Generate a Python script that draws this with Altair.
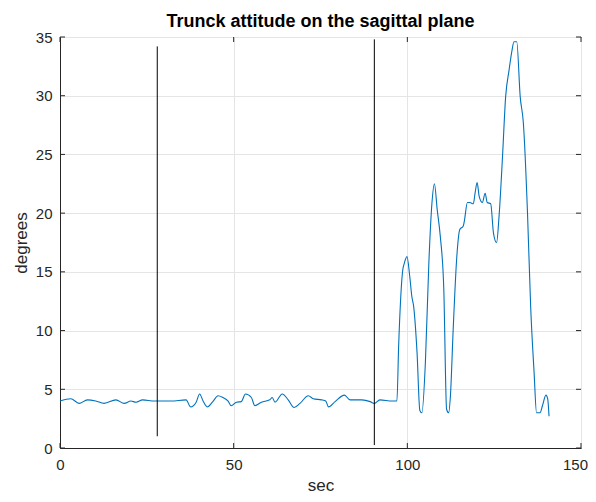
import altair as alt
import pandas as pd

sec = [0.0, 3.1, 5.5, 7.9, 10.3, 12.7, 16.1, 18.5, 20.4, 21.9, 23.8, 27.2, 32.0, 36.3,
       37.6, 39.2, 40.2, 41.2, 42.4, 44.0, 45.5, 46.9, 48.4, 49.3, 50.8, 52.2, 53.4,
       55.1, 56.1, 58.0, 60.4, 61.1, 61.9, 64.0, 65.7, 67.4, 69.1, 71.5, 72.9, 75.3,
       76.5, 77.3, 79.2, 81.9, 83.5, 86.9, 89.3, 90.5, 92.1, 95.6, 97.0, 97.5, 98.7,
       99.1, 99.9, 100.7, 101.3, 101.8, 102.8, 103.6, 104.2, 105.2, 106.2, 107.1,
       107.8, 108.6, 109.5, 110.5, 111.3, 111.9, 112.4, 113.2, 114.2, 115.1, 116.1,
       116.4, 117.3, 118.0, 119.0, 119.5, 120.1, 120.7, 121.6, 122.4, 123.0, 124.0,
       124.8, 125.7, 126.4, 127.4, 128.3, 129.3, 130.1, 130.7, 131.5, 132.5, 133.4,
       134.6, 135.5, 136.5, 137.2, 138.2, 138.9, 139.9, 140.4, 140.8]
deg = [4.0, 4.2, 3.8, 4.1, 4.0, 3.8, 4.1, 3.8, 4.0, 3.9, 4.1, 4.0, 4.0, 4.1,
       3.5, 3.9, 4.6, 4.0, 3.5, 3.95, 4.45, 4.3, 4.0, 3.6, 3.9, 3.95, 4.6,
       4.3, 3.6, 3.9, 4.1, 4.3, 3.9, 4.6, 4.1, 3.45, 3.8, 4.45, 4.2, 4.1,
       4.0, 3.5, 3.95, 4.5, 4.1, 4.1, 3.95, 3.8, 4.1, 4.0, 4.0, 8.7, 15.2,
       15.7, 16.3, 14.6, 12.9, 12.1, 8.1, 3.2, 3.0, 7.3, 15.8, 20.9,
       22.5, 20.3, 18.0, 13.5, 3.3, 3.0, 4.4, 10.1, 16.1, 18.6, 18.9,
       19.3, 20.9, 20.9, 20.8, 21.7, 22.6, 21.4, 20.9, 21.7, 20.9, 20.8,
       18.3, 17.5, 19.7, 24.8, 29.9, 32.2, 33.8, 34.6, 34.6, 29.9, 27.7,
       20.0, 12.1, 6.4, 3.0, 3.0, 3.6, 4.5, 4.2, 2.7]

marker_x = [28.0, 90.5]
marker_y0 = [1.0, 0.25]
marker_y1 = [34.2, 34.8]

x_ticks = [0, 50, 100, 150]
y_ticks = [0, 5, 10, 15, 20, 25, 30, 35]

W, H = 521, 411
AX = "#262626"
FONT = "Liberation Sans"

df = pd.DataFrame({"sec": sec, "deg": deg})
dm = pd.DataFrame({"x": marker_x, "y0": marker_y0, "y1": marker_y1})
dxt = pd.DataFrame({"t": x_ticks})
dyt = pd.DataFrame({"t": y_ticks})

xs = alt.Scale(domain=[0, 150], nice=False, zero=False)
ys = alt.Scale(domain=[0, 35], nice=False, zero=False)

line = alt.Chart(df).mark_line(color="#0072BD", strokeWidth=1.1, interpolate="monotone").encode(
    x=alt.X("sec:Q", scale=xs, title="sec",
            axis=alt.Axis(values=x_ticks, grid=True, ticks=False, labelPadding=9,
                          labelFlush=False, titlePadding=5, domainColor=AX,
                          labelOffset={"condition": {"test": "datum.value == 150", "value": -6},
                                       "value": 0})),
    y=alt.Y("deg:Q", scale=ys, title="degrees",
            axis=alt.Axis(values=y_ticks, grid=True, ticks=False, labelPadding=8,
                          labelFlush=False, titlePadding=5, domainColor=AX)),
)

markers = alt.Chart(dm).mark_rule(color="black", strokeWidth=1).encode(
    x=alt.X("x:Q", scale=xs), y=alt.Y("y0:Q", scale=ys), y2="y1:Q")

tb = alt.Chart(dxt).mark_rule(color=AX).encode(
    x=alt.X("t:Q", scale=xs), y=alt.value(H), y2=alt.value(H - 5))
tt = alt.Chart(dxt).mark_rule(color=AX).encode(
    x=alt.X("t:Q", scale=xs), y=alt.value(0), y2=alt.value(5))
tl = alt.Chart(dyt).mark_rule(color=AX).encode(
    y=alt.Y("t:Q", scale=ys), x=alt.value(0), x2=alt.value(5))
tr = alt.Chart(dyt).mark_rule(color=AX).encode(
    y=alt.Y("t:Q", scale=ys), x=alt.value(W), x2=alt.value(W - 5))

chart = alt.layer(line, markers, tb, tt, tl, tr).properties(
    width=W, height=H,
    title=alt.TitleParams("Trunck attitude on the sagittal plane", fontSize=18,
                          fontWeight="bold", font=FONT, color="black", offset=-1,
                          anchor="middle"),
    autosize=alt.AutoSizeParams(type="none"),
    padding={"left": 52, "top": 29, "right": 7, "bottom": 46},
).configure_view(stroke=AX, strokeWidth=1).configure_axis(
    labelFont=FONT, titleFont=FONT, labelFontSize=15, titleFontSize=17,
    labelColor=AX, titleColor=AX, titleFontWeight="normal",
    gridColor="#e5e5e5", gridWidth=1, domainWidth=1,
)

chart.save("out.html", embed_options={"renderer": "svg", "actions": False})
